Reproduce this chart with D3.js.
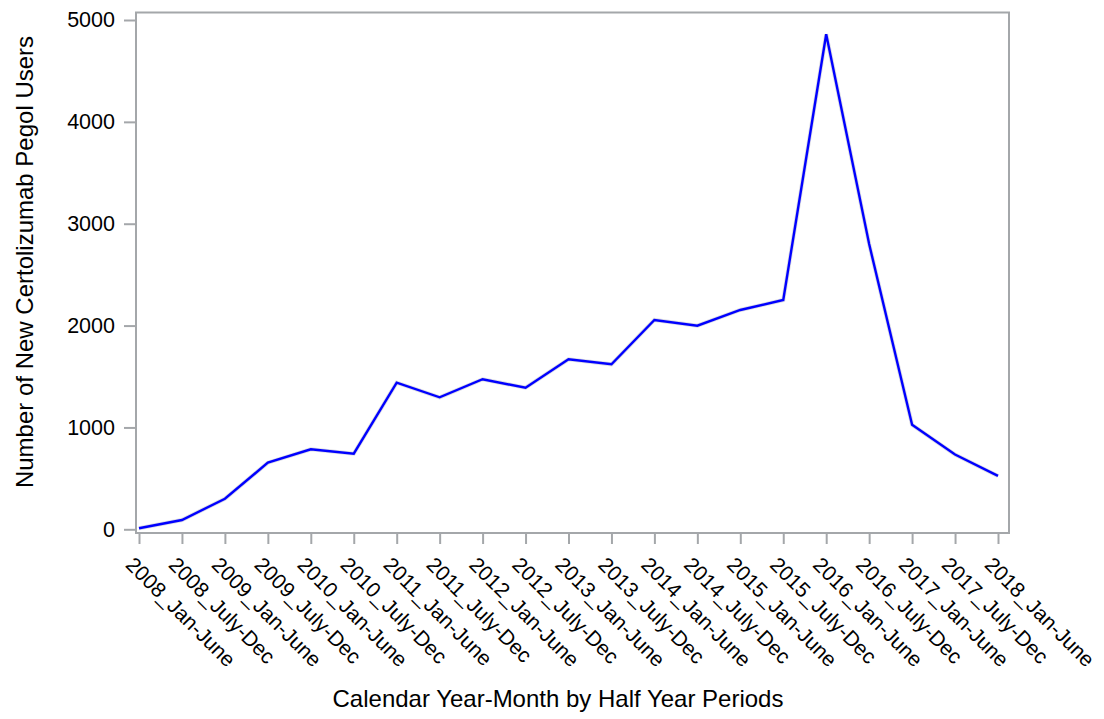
<!DOCTYPE html>
<html>
<head>
<meta charset="utf-8">
<script src="https://cdn.jsdelivr.net/npm/d3@7"></script>
<style>
  html, body { margin: 0; padding: 0; background: #fff; }
  svg { display: block; }
  text { font-family: "Liberation Sans", Arial, Helvetica, sans-serif; fill: #000; }
</style>
</head>
<body>
<svg id="chart" width="1104" height="719"></svg>
<script>
const categories = [
  "2008_Jan-June", "2008_July-Dec", "2009_Jan-June", "2009_July-Dec",
  "2010_Jan-June", "2010_July-Dec", "2011_Jan-June", "2011_July-Dec",
  "2012_Jan-June", "2012_July-Dec", "2013_Jan-June", "2013_July-Dec",
  "2014_Jan-June", "2014_July-Dec", "2015_Jan-June", "2015_July-Dec",
  "2016_Jan-June", "2016_July-Dec", "2017_Jan-June", "2017_July-Dec",
  "2018_Jan-June"
];
const newUsers = [
  10, 91, 300, 654,
  785, 742, 1440, 1296,
  1473, 1390, 1669, 1620,
  2055, 1999, 2153, 2251,
  4860, 2800, 1026, 734,
  524
];
const yTicks = [0, 1000, 2000, 3000, 4000, 5000];
const xTitle = "Calendar Year-Month by Half Year Periods";
const yTitle = "Number of New Certolizumab Pegol Users";

const svg = d3.select("#chart");
const frame = { left: 136, right: 1009, top: 12.5, bottom: 533 };
const axisColor = "#a4a7aa";

const x = d3.scalePoint().domain(categories).range([139, 998]);
const y = d3.scaleLinear().domain([0, 5000]).range([529.3, 20]);

// Frame
svg.append("rect")
  .attr("x", frame.left).attr("y", frame.top)
  .attr("width", frame.right - frame.left)
  .attr("height", frame.bottom - frame.top)
  .attr("fill", "none").attr("stroke", axisColor).attr("stroke-width", 2);

// Y axis
const yAxis = svg.append("g")
  .attr("transform", `translate(${frame.left},0)`)
  .call(d3.axisLeft(y).tickValues(yTicks).tickSize(12).tickPadding(9).tickFormat(d3.format("d")));
yAxis.select(".domain").remove();
yAxis.selectAll(".tick line").attr("stroke", axisColor).attr("stroke-width", 2);
yAxis.selectAll(".tick text")
  .style("font-family", "'Liberation Sans', Arial, sans-serif")
  .style("font-size", "21.5px").attr("fill", "#000");

// X axis
const xAxis = svg.append("g")
  .attr("transform", `translate(0,${frame.bottom})`)
  .call(d3.axisBottom(x).tickSize(11).tickFormat(d => d));
xAxis.select(".domain").remove();
xAxis.selectAll(".tick line").attr("stroke", axisColor).attr("stroke-width", 2);
xAxis.selectAll(".tick text")
  .style("font-family", "'Liberation Sans', Arial, sans-serif")
  .style("font-size", "21px").attr("fill", "#000")
  .attr("text-anchor", "start")
  .attr("y", 0).attr("dy", 0)
  .attr("transform", "translate(-15,33) rotate(45)");

// Line
const line = d3.line()
  .x((d, i) => x(categories[i]))
  .y(d => y(d));

svg.append("path")
  .datum(newUsers)
  .attr("d", line)
  .attr("fill", "none")
  .attr("stroke", "#b8b8c8")
  .attr("stroke-width", 4)
  .attr("stroke-linejoin", "miter")
  .attr("opacity", 0.5);

svg.append("path")
  .datum(newUsers)
  .attr("d", line)
  .attr("fill", "none")
  .attr("stroke", "#0000ff")
  .attr("stroke-width", 2.4)
  .attr("stroke-linejoin", "miter");

// Titles
svg.append("text")
  .attr("x", 558).attr("y", 707)
  .attr("text-anchor", "middle")
  .style("font-size", "24px")
  .text(xTitle);

svg.append("text")
  .attr("transform", "translate(33,262) rotate(-90)")
  .attr("text-anchor", "middle")
  .style("font-size", "24px")
  .text(yTitle);
</script>
</body>
</html>
